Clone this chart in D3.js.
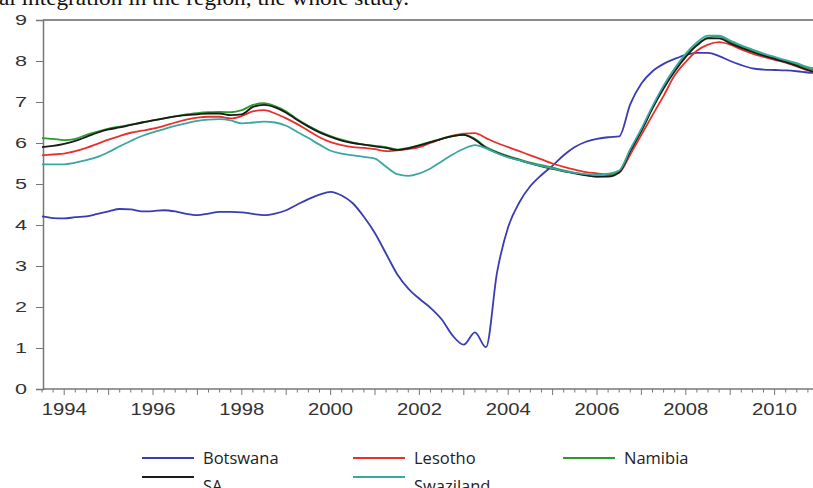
<!DOCTYPE html>
<html>
<head>
<meta charset="utf-8">
<script src="https://cdn.jsdelivr.net/npm/d3@7"></script>
<style>
  html, body { margin: 0; padding: 0; background: #fff; }
  svg { display: block; }
</style>
</head>
<body>
<div id="chart"></div>
<script>
// quarterly series, first observation 1993Q3
const firstYear = 1993, firstQuarter = 3;

const botswana = [4.21, 4.17, 4.16, 4.19, 4.21, 4.27, 4.33, 4.39, 4.38, 4.33,
  4.34, 4.36, 4.33, 4.27, 4.24, 4.28, 4.32, 4.32, 4.31, 4.27,
  4.24, 4.28, 4.36, 4.50, 4.63, 4.74, 4.81, 4.72, 4.53, 4.20,
  3.80, 3.30, 2.80, 2.45, 2.20, 1.98, 1.70, 1.30, 1.08, 1.38,
  1.02, 2.85, 3.95, 4.55, 4.95, 5.22, 5.45, 5.70, 5.90, 6.03,
  6.10, 6.14, 6.16, 6.95, 7.45, 7.75, 7.93, 8.05, 8.15, 8.20,
  8.20, 8.12, 8.00, 7.90, 7.82, 7.79, 7.78, 7.77, 7.75, 7.72, 7.70];

const lesotho = [5.70, 5.72, 5.74, 5.80, 5.88, 5.98, 6.08, 6.17, 6.25, 6.30,
  6.35, 6.42, 6.50, 6.57, 6.62, 6.64, 6.64, 6.60, 6.66, 6.77,
  6.80, 6.72, 6.60, 6.46, 6.30, 6.14, 6.02, 5.95, 5.90, 5.88,
  5.85, 5.80, 5.82, 5.85, 5.90, 6.00, 6.10, 6.18, 6.23, 6.24,
  6.12, 6.00, 5.90, 5.80, 5.70, 5.60, 5.50, 5.42, 5.35, 5.29,
  5.26, 5.23, 5.28, 5.72, 6.20, 6.68, 7.15, 7.65, 7.98, 8.25,
  8.40, 8.46, 8.40, 8.28, 8.18, 8.10, 8.03, 7.96, 7.87, 7.77, 7.70];

const namibia = [6.12, 6.10, 6.07, 6.10, 6.20, 6.28, 6.35, 6.40, 6.45, 6.50,
  6.55, 6.60, 6.65, 6.70, 6.73, 6.75, 6.76, 6.75, 6.80, 6.93,
  6.97, 6.90, 6.77, 6.58, 6.42, 6.28, 6.17, 6.08, 6.01, 5.96,
  5.93, 5.90, 5.84, 5.88, 5.95, 6.03, 6.10, 6.17, 6.20, 6.10,
  5.90, 5.78, 5.68, 5.60, 5.52, 5.46, 5.40, 5.33, 5.27, 5.22,
  5.18, 5.20, 5.30, 5.83, 6.30, 6.85, 7.37, 7.80, 8.15, 8.39,
  8.57, 8.60, 8.47, 8.35, 8.25, 8.15, 8.07, 8.00, 7.92, 7.82, 7.75];

const sa = [5.90, 5.93, 5.98, 6.05, 6.15, 6.25, 6.33, 6.38, 6.44, 6.50,
  6.55, 6.60, 6.65, 6.68, 6.70, 6.72, 6.72, 6.68, 6.70, 6.88,
  6.93, 6.87, 6.74, 6.56, 6.40, 6.26, 6.15, 6.06, 6.00, 5.96,
  5.92, 5.88, 5.83, 5.87, 5.94, 6.02, 6.10, 6.17, 6.20, 6.08,
  5.88, 5.76, 5.66, 5.58, 5.50, 5.43, 5.37, 5.31, 5.26, 5.21,
  5.18, 5.18, 5.28, 5.80, 6.30, 6.85, 7.33, 7.75, 8.10, 8.38,
  8.55, 8.55, 8.43, 8.32, 8.22, 8.13, 8.05, 7.97, 7.88, 7.78, 7.70];

const swaziland = [5.48, 5.48, 5.48, 5.52, 5.58, 5.66, 5.78, 5.92, 6.05, 6.17,
  6.26, 6.34, 6.42, 6.48, 6.54, 6.57, 6.58, 6.55, 6.48, 6.50,
  6.52, 6.50, 6.42, 6.27, 6.12, 5.96, 5.81, 5.74, 5.70, 5.66,
  5.62, 5.42, 5.24, 5.20, 5.26, 5.38, 5.55, 5.72, 5.86, 5.95,
  5.87, 5.75, 5.65, 5.58, 5.50, 5.44, 5.38, 5.32, 5.27, 5.24,
  5.22, 5.25, 5.33, 5.85, 6.35, 6.90, 7.40, 7.82, 8.18, 8.45,
  8.62, 8.62, 8.50, 8.38, 8.28, 8.18, 8.10, 8.02, 7.95, 7.85, 7.80];

const seriesNames = ["Botswana", "Lesotho", "Namibia", "SA", "Swaziland"];
const seriesColors = ["#3b3bb3", "#e8302c", "#2c9a2c", "#1a1a1a", "#3aa7a2"];
const seriesValues = [botswana, lesotho, namibia, sa, swaziland];

const yearLabels = [1994, 1996, 1998, 2000, 2002, 2004, 2006, 2008, 2010];
const yTicks = [0, 1, 2, 3, 4, 5, 6, 7, 8, 9];

// time of each observation (fractional year)
const t0 = firstYear + (firstQuarter - 1) / 4;
const times = botswana.map((d, i) => t0 + i * 0.25);

const width = 813, height = 488;
const margin = {top: 20, left: 43, bottom: 389};

let svg = d3.select("#chart").append("svg")
    .attr("width", width)
    .attr("height", height);

// cropped caption line from the page above the chart
svg.append("text")
    .attr("x", -1)
    .attr("y", 5)
    .attr("font-family", "Liberation Serif")
    .attr("font-size", 21)
    .attr("fill", "#111")
    .attr("textLength", 410)
    .attr("lengthAdjust", "spacingAndGlyphs")
    .text("al integration in the region, the whole study.");

var x = d3.scaleLinear()
    .domain([1993.5, 2011])
    .range([margin.left - 1, 819]);

var y = d3.scaleLinear()
    .domain([0, 9])
    .range([margin.bottom, margin.top]);

// frame: top line
svg.append("line")
    .attr("x1", margin.left).attr("x2", width)
    .attr("y1", y(9)).attr("y2", y(9))
    .attr("stroke", "#8c8c8c").attr("stroke-width", 2);

// y axis
let yAxis = svg.append("g")
    .attr("transform", "translate(" + margin.left + ",0)")
    .call(d3.axisLeft(y).tickValues(yTicks).tickSize(7).tickPadding(9));
yAxis.select(".domain").attr("stroke", "#777").attr("stroke-width", 1.5);
yAxis.selectAll(".tick line").attr("stroke", "#777");
yAxis.selectAll("text")
    .attr("font-family", "Liberation Sans")
    .attr("font-size", 15)
    .attr("fill", "#333")
    .attr("textLength", 12)
    .attr("lengthAdjust", "spacingAndGlyphs");

// x axis: quarterly minor ticks, yearly major ticks
let xg = svg.append("g").attr("transform", "translate(0," + margin.bottom + ")");
xg.append("line")
    .attr("x1", margin.left).attr("x2", width)
    .attr("stroke", "#777").attr("stroke-width", 1.5);
xg.selectAll(".minor")
    .data(times)
    .join("line")
    .attr("class", "minor")
    .attr("x1", d => x(d)).attr("x2", d => x(d))
    .attr("y1", 0)
    .attr("y2", d => Number.isInteger(d) ? 6 : 3.5)
    .attr("stroke", "#777");
xg.selectAll(".lbl")
    .data(yearLabels)
    .join("text")
    .attr("class", "lbl")
    .attr("x", d => x(d))
    .attr("y", 26)
    .attr("text-anchor", "middle")
    .attr("font-family", "Liberation Sans")
    .attr("font-size", 16)
    .attr("fill", "#333")
    .attr("textLength", 45)
    .attr("lengthAdjust", "spacingAndGlyphs")
    .text(d => d);

// lines
let line = d3.line()
    .curve(d3.curveMonotoneX)
    .x((d, i) => x(times[i]))
    .y(d => y(d));

svg.append("g")
    .selectAll("path")
    .data(seriesValues)
    .join("path")
    .attr("d", d => line(d))
    .attr("fill", "none")
    .attr("stroke", (d, i) => seriesColors[i])
    .attr("stroke-width", 1.8)
    .attr("stroke-linejoin", "round");

// legend, 3 columns x 2 rows
const legendCols = [142, 353, 563];
const legendRows = [458, 477];
let legend = svg.append("g");
seriesNames.forEach((name, i) => {
  let cx = legendCols[i % 3], cy = legendRows[Math.floor(i / 3)];
  legend.append("line")
    .attr("x1", cx).attr("x2", cx + 52)
    .attr("y1", cy).attr("y2", cy)
    .attr("stroke", seriesColors[i])
    .attr("stroke-width", 2);
  legend.append("text")
    .attr("x", cx + 61)
    .attr("y", i < 3 ? cy + 6 : cy + 15)
    .attr("font-family", "Open Sans")
    .attr("font-size", 16.5)
    .attr("fill", "#222")
    .text(name);
});
</script>
</body>
</html>
